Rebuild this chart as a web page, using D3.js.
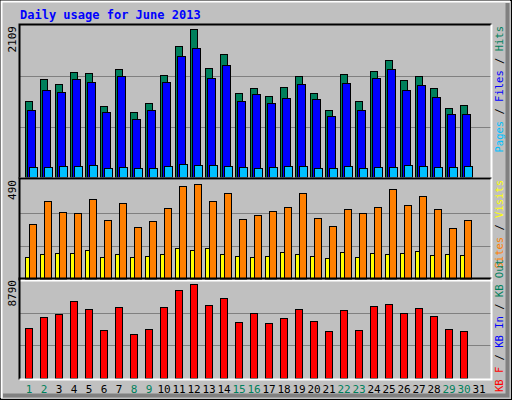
<!DOCTYPE html>
<html><head><meta charset="utf-8">
<script src="https://cdn.jsdelivr.net/npm/d3@7"></script>
<style>body{margin:0;background:#fff}svg{display:block}text{font-family:"DejaVu Sans Mono",monospace}</style>
</head><body><svg id="chart"></svg>
<script>
const days = d3.range(1, 32);
const weekend = [1, 2, 8, 9, 15, 16, 22, 23, 29, 30];
const hits = [1062,1369,1299,1467,1453,992,1509,908,1034,1425,1830,2067,1523,1718,1173,1243,1131,1257,1411,1173,936,1439,1062,1481,1634,1355,1411,1243,964,1006,0];
const files = [936,1215,1187,1369,1327,908,1411,810,936,1327,1690,1802,1383,1565,1062,1159,1034,1104,1299,1090,852,1313,936,1383,1509,1215,1285,1118,880,880,0];
const pages = [140,140,154,154,168,126,140,126,126,154,182,168,168,154,140,126,140,154,154,126,126,154,126,140,140,168,154,140,140,154,0];
const visits = [109,124,129,129,144,109,124,109,114,124,153,144,153,124,114,109,114,134,124,114,104,134,109,129,124,129,139,119,124,119,0];
const sites = [272,386,332,327,396,292,376,257,287,351,460,470,386,426,297,317,337,356,426,302,262,347,327,356,446,366,411,347,252,292,0];
const kbytes = [4529,5506,5772,6926,6216,4262,6394,3907,4351,6394,7903,8435,6571,7192,5061,5860,4973,5417,6216,5150,4174,6127,4262,6482,6660,5860,6305,5594,4351,4174,0];
const maxLabels = ["2109", "490", "8790"];

const W = 512, H = 400;
const svg = d3.select("#chart").attr("width", W).attr("height", H);
const bg = "#C0C0C0";

svg.append("rect").attr("width", W).attr("height", H).attr("fill", bg);
// outer frame
svg.append("rect").attr("x", 0.5).attr("y", 0.5).attr("width", W - 1).attr("height", H - 1).attr("fill", "none").attr("stroke", "#000");
svg.append("path").attr("d", `M1.5,${H-2}V1.5H${W-2}`).attr("fill", "none").attr("stroke", "#fff").attr("stroke-width", 2);
svg.append("path").attr("d", `M3,${H-4.5}H${W-4.5}V3`).attr("fill", "none").attr("stroke", "#808080").attr("stroke-width", 4);

svg.append("text").attr("x", 20).attr("y", 19).attr("fill", "#0000FF")
  .attr("font-size", 12).attr("font-weight", "bold").text("Daily usage for June 2013");

const x = d3.scaleLinear().domain([1, 31]).range([25, 475]);

const panels = [
  { top: 26, bottom: 177, max: 2109, label: maxLabels[0],
    series: [{ d: hits, c: "#00805C", dx: 0, w: 7 }, { d: files, c: "#0000FF", dx: 2, w: 8 }, { d: pages, c: "#00C0FF", dx: 4, w: 8 }],
    legendAt: 26, anchor: "end",
    legend: [["Pages", "#00C0FF"], [" / ", "#000"], ["Files", "#0000FF"], [" / ", "#000"], ["Hits", "#00805C"]] },
  { top: 180, bottom: 279, max: 490, label: maxLabels[1],
    series: [{ d: visits, c: "#FFFF00", dx: 0, w: 5 }, { d: sites, c: "#FF8000", dx: 4, w: 7 }],
    legendAt: 180, anchor: "end",
    legend: [["Sites", "#FF8000"], [" / ", "#000"], ["Visits", "#FFFF00"]] },
  { top: 280, bottom: 378, max: 8790, label: maxLabels[2],
    series: [{ d: kbytes, c: "#FF0000", dx: 0, w: 7 }],
    legendAt: 392, anchor: "start",
    legend: [["KB F", "#FF0000"], [" / ", "#000"], ["KB In", "#0000FF"], [" / ", "#000"], ["KB Out", "#00805C"]] }
];

const xl = 20, xr = 491;
panels.forEach((p, pi) => {
  const y = d3.scaleLinear().domain([0, p.max]).range([p.bottom, p.top]);
  const g = svg.append("g");
  // gridlines
  [1 / 3, 2 / 3].forEach(f => {
    g.append("line").attr("x1", xl).attr("x2", xr).attr("y1", Math.round(y(p.max * f)) + 0.5).attr("y2", Math.round(y(p.max * f)) + 0.5)
      .attr("stroke", "#808080");
  });
  p.series.forEach(s => {
    g.selectAll(null).data(days).enter().filter(d => s.d[d - 1] > 0).append("rect")
      .attr("x", d => x(d) + s.dx + 0.5)
      .attr("y", d => Math.round(y(s.d[d - 1])) + 0.5)
      .attr("width", s.w)
      .attr("height", d => p.bottom - Math.round(y(s.d[d - 1])))
      .attr("fill", s.c).attr("stroke", "#000");
  });
  // frame: sunken
  const t = p.top - 1.5, b = p.bottom + 1.5;
  g.append("path").attr("d", `M${xl - 0.5},${b}V${t}H${xr + 0.5}`).attr("fill", "none").attr("stroke", "#000").attr("stroke-width", 2);
  g.append("path").attr("d", `M${xl - 0.5},${b}H${xr + 0.5}V${t}`).attr("fill", "none").attr("stroke", "#fff").attr("stroke-width", 2);
  g.append("text").attr("transform", `translate(16,${p.top}) rotate(-90)`).attr("text-anchor", "end")
    .attr("font-size", 11).attr("fill", "#000").text(p.label);
  const lt = g.append("text").attr("transform", `translate(503,${p.legendAt}) rotate(-90)`).attr("text-anchor", p.anchor)
    .attr("font-size", 10.5);
  p.legend.forEach(([s, c]) => lt.append("tspan").attr("fill", c).attr("xml:space", "preserve").text(s));
});

svg.append("g").selectAll("text").data(days).enter().append("text")
  .attr("x", d => x(d) + 4).attr("y", 393).attr("text-anchor", "middle").attr("font-size", 11)
  .attr("fill", d => weekend.includes(d) ? "#00805C" : "#000").text(d => d);
</script></body></html>
